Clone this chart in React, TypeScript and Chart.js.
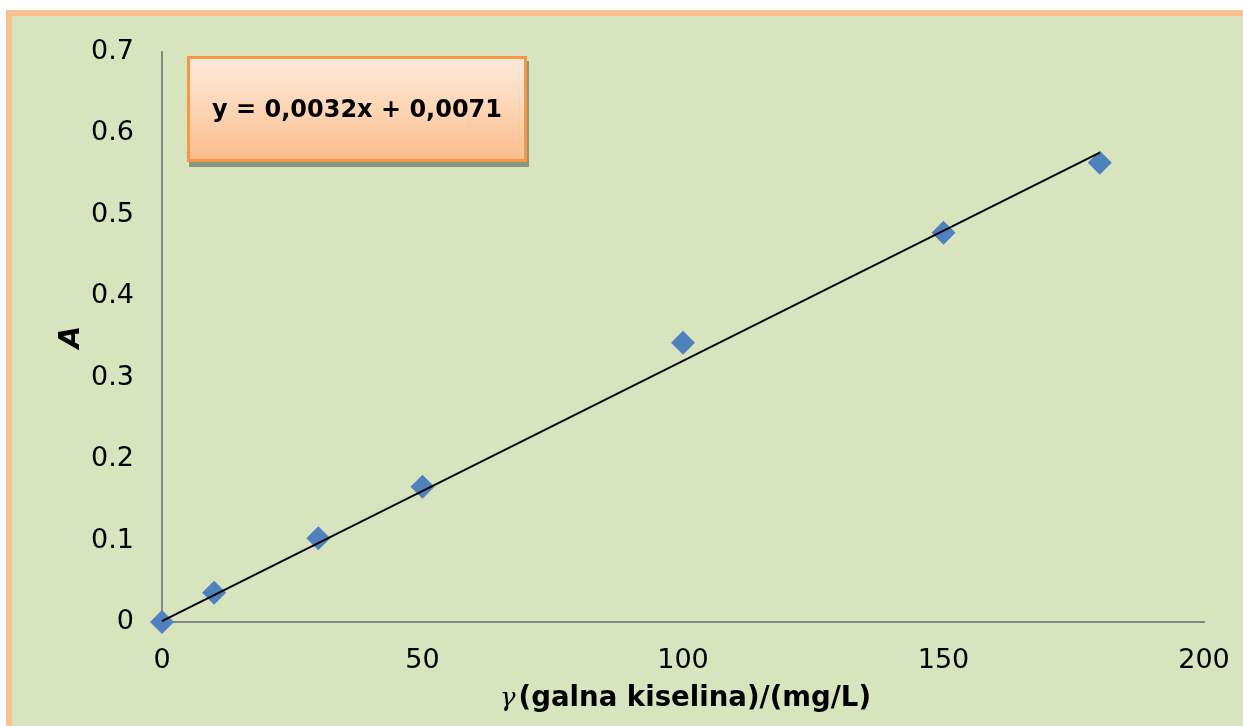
import React, { useEffect, useRef } from "react";
import { Chart, registerables } from "chart.js";

Chart.register(...registerables);

// Measured concentrations (mg/L) and absorbances
const concentrations = [0, 10, 30, 50, 100, 150, 180];
const absorbances = [0, 0.036, 0.103, 0.166, 0.343, 0.478, 0.564];

// Linear trendline endpoints as drawn in the reference
const trendX = [0, 180];
const trendY = [0.0012, 0.5765];

const xTickValues = [0, 50, 100, 150, 200];
const yTickValues = [0, 0.1, 0.2, 0.3, 0.4, 0.5, 0.6, 0.7];
const yTickLabels = ["0", "0.1", "0.2", "0.3", "0.4", "0.5", "0.6", "0.7"];

const equationText = "y = 0,0032x + 0,0071";
const yTitle = "A";
const xTitleSymbol = "γ";
const xTitleRest = "(galna kiselina)/(mg/L)";

const W = 1243;
const H = 726;

export default function App() {
  const ref = useRef<HTMLCanvasElement | null>(null);

  useEffect(() => {
    document.body.style.margin = "0";
    const canvas = ref.current;
    if (!canvas) return;
    const tickFont = { family: "'DejaVu Sans', sans-serif", size: 27 };
    const chart = new Chart(canvas, {
      type: "scatter",
      data: {
        datasets: [
          {
            type: "line",
            label: "Trend",
            data: trendX.map((x, i) => ({ x, y: trendY[i] })),
            borderColor: "#000000",
            borderWidth: 2,
            pointRadius: 0,
            fill: false,
            clip: false,
            order: 0,
          },
          {
            label: "A",
            data: concentrations.map((x, i) => ({ x, y: absorbances[i] })),
            pointStyle: "rectRot",
            pointRadius: 12,
            pointBackgroundColor: "#4f81bd",
            pointBorderColor: "#4f81bd",
            pointBorderWidth: 0,
            showLine: false,
            clip: false,
            order: 1,
          } as any,
        ],
      },
      options: {
        responsive: false,
        animation: false,
        layout: { padding: { top: 52, right: 39, left: 0, bottom: 0 } },
        plugins: {
          legend: { display: false },
          tooltip: { enabled: false },
        },
        scales: {
          x: {
            type: "linear",
            min: 0,
            max: 200,
            grid: { display: false, drawTicks: false },
            border: { display: true, color: "#868686", width: 2 },
            afterBuildTicks: (scale: any) => {
              scale.ticks = xTickValues.map((v) => ({ value: v }));
            },
            afterFit: (scale: any) => {
              scale.height = 104;
              scale.paddingRight = 0;
              scale.paddingLeft = 0;
            },
            ticks: {
              font: tickFont,
              color: "#000000",
              padding: 23,
              maxRotation: 0,
            },
          },
          y: {
            type: "linear",
            min: 0,
            max: 0.7,
            grid: { display: false, drawTicks: false },
            border: { display: true, color: "#868686", width: 2 },
            afterBuildTicks: (scale: any) => {
              scale.ticks = yTickValues.map((v) => ({ value: v }));
            },
            afterFit: (scale: any) => {
              scale.width = 162;
              scale.paddingTop = 0;
              scale.paddingBottom = 0;
            },
            ticks: {
              font: tickFont,
              color: "#000000",
              padding: 28,
              callback: (_v: any, i: number) => yTickLabels[i],
            },
            title: {
              display: true,
              text: yTitle,
              color: "#000000",
              font: {
                family: "'DejaVu Sans', sans-serif",
                size: 29,
                weight: "bold",
                style: "italic",
              },
              padding: { top: 54, bottom: 0 },
            },
          },
        },
      },
    });
    return () => chart.destroy();
  }, []);

  return (
    <div
      style={{
        position: "fixed",
        left: 0,
        top: 0,
        width: W,
        height: H,
        background: "#ffffff",
        overflow: "hidden",
      }}
    >
      <div
        style={{
          position: "absolute",
          left: 6,
          top: 10,
          width: W + 40,
          height: H + 40,
          border: "6px solid #fbc08f",
          background: "#d7e4bd",
        }}
      />
      <canvas
        ref={ref}
        width={W}
        height={H}
        style={{ position: "absolute", left: 0, top: 0, width: W, height: H }}
      />
      <div
        style={{
          position: "absolute",
          left: 187,
          top: 56,
          width: 334,
          height: 100,
          border: "3px solid #f79646",
          background: "linear-gradient(to bottom, #fde9d9 0%, #fcd3b1 55%, #fbbd8c 100%)",
          boxShadow: "2px 5px 0 #8a977c",
          display: "flex",
          alignItems: "center",
          justifyContent: "center",
          fontFamily: "'DejaVu Sans', sans-serif",
          fontWeight: "bold",
          fontSize: 24,
          color: "#000000",
          whiteSpace: "nowrap",
        }}
      >
        {equationText}
      </div>
      <div
        style={{
          position: "absolute",
          left: 500,
          top: 680,
          whiteSpace: "nowrap",
          lineHeight: "34px",
          color: "#000000",
        }}
      >
        <span
          style={{
            fontFamily: "'DejaVu Serif', 'Liberation Serif', serif",
            fontStyle: "italic",
            fontSize: 26,
          }}
        >
          {xTitleSymbol}
        </span>
        <span
          style={{
            fontFamily: "'DejaVu Sans', sans-serif",
            fontWeight: "bold",
            fontSize: 27.6,
            marginLeft: 3,
          }}
        >
          {xTitleRest}
        </span>
      </div>
    </div>
  );
}
